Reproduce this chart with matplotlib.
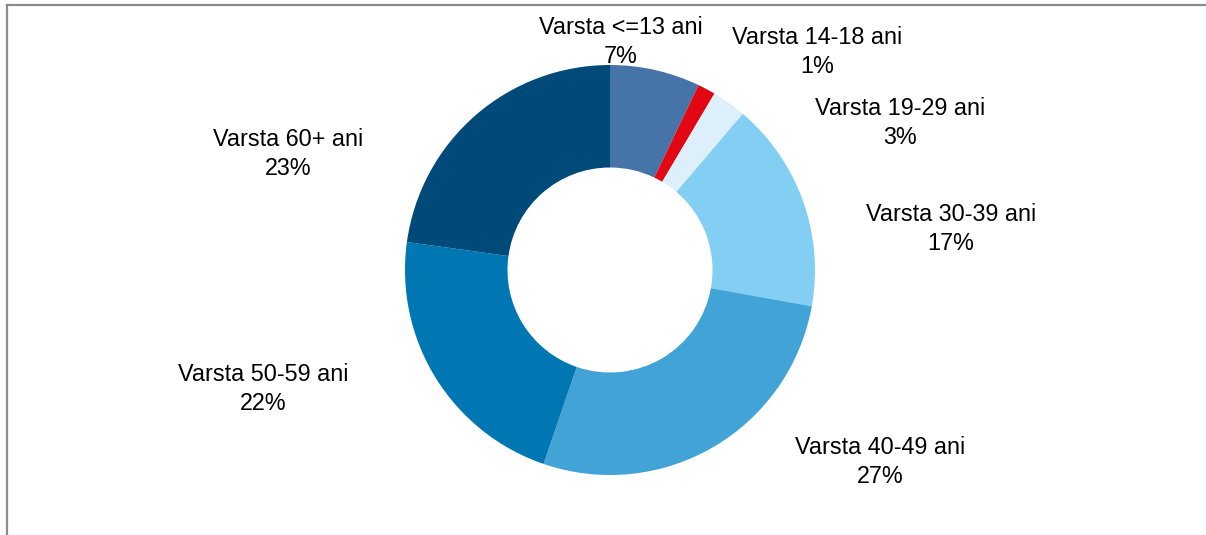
import matplotlib.pyplot as plt
from matplotlib.lines import Line2D

plt.rcParams['font.family'] = ['Liberation Sans', 'DejaVu Sans']

groups = ['Varsta <=13 ani', 'Varsta 14-18 ani', 'Varsta 19-29 ani',
          'Varsta 30-39 ani', 'Varsta 40-49 ani', 'Varsta 50-59 ani',
          'Varsta 60+ ani']
shares = [7.1, 1.4, 2.7, 16.6, 27.4, 21.9, 22.8]
colors = ['#4674a8', '#e30613', '#ddeffb', '#83cff3', '#41a3d6', '#0077b3', '#004a7a']
# label anchor positions, in pie radius units
label_pos = [(0.054, 1.112), (1.01, 1.063), (1.415, 0.717), (1.663, 0.20),
             (1.317, -0.937), (-1.693, -0.580), (-1.571, 0.566)]

fig = plt.figure(figsize=(12.06, 5.35), dpi=100)
ax = fig.add_axes([0, 0, 1, 1])
ax.pie(shares, colors=colors, startangle=90, counterclock=False,
       radius=1, wedgeprops=dict(width=0.5, linewidth=0))
ax.set_xlim(-610 / 205, 596 / 205)
ax.set_ylim(-265 / 205, 270 / 205)
ax.set_aspect('auto')
ax.axis('off')

total = sum(shares)
for name, v, (x, y) in zip(groups, shares, label_pos):
    ax.text(x, y, '%s\n%d%%' % (name, round(v / total * 100)),
            ha='center', va='center', fontsize=16.8, linespacing=1.3,
            color='black')

# chart frame (only top and left edges visible)
fig.add_artist(Line2D([6.5 / 1206, 1], [1 - 4.5 / 535, 1 - 4.5 / 535],
                      transform=fig.transFigure, color='#8c8c8c', lw=1.6))
fig.add_artist(Line2D([6.5 / 1206, 6.5 / 1206], [0, 1 - 4.5 / 535],
                      transform=fig.transFigure, color='#8c8c8c', lw=1.6))

fig.savefig('out.png', dpi=100)
